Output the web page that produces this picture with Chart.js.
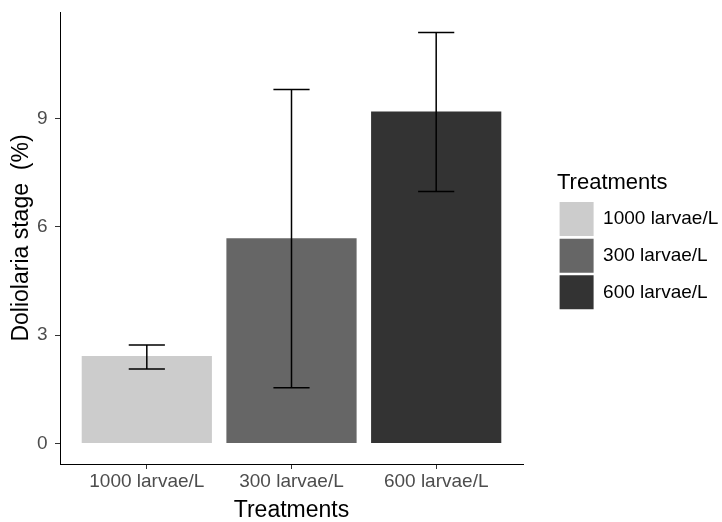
<!DOCTYPE html>
<html>
<head>
<meta charset="utf-8">
<script src="https://cdn.jsdelivr.net/npm/chart.js@4.4.1/dist/chart.umd.min.js"></script>
<style>
  html, body { margin: 0; padding: 0; background: #fff; }
  canvas { display: block; }
</style>
</head>
<body>
<canvas id="grafico" width="722" height="522"></canvas>
<script>
// Datos
const tratamientos = ['1000 larvae/L', '300 larvae/L', '600 larvae/L'];
const medias = [2.42, 5.68, 9.19];
const errorSuperior = [2.73, 9.80, 11.38];
const errorInferior = [2.06, 1.54, 6.98];
const ticksY = [0, 3, 6, 9];

const coloresBarras = ['#cccccc', '#666666', '#333333'];
const fuente = "'Liberation Sans', Arial, sans-serif";
const anchoBigote = 0.25; // ancho de los bigotes en unidades de categoría

// Rango del eje Y con la expansión del 5% (como ggplot)
const maxY = Math.max(...errorSuperior);
const expansion = maxY * 0.05;

// Dibuja las barras de error encima de las barras
const barrasError = {
    id: 'barrasError',
    afterDatasetsDraw(chart) {
        const { ctx, scales: { x, y } } = chart;
        ctx.save();
        ctx.strokeStyle = '#000';
        ctx.lineWidth = 1.5;
        tratamientos.forEach((t, i) => {
            const cx = x.getPixelForValue(i + 1);
            const medio = x.getPixelForValue(i + 1 + anchoBigote / 2) - cx;
            const yArriba = y.getPixelForValue(errorSuperior[i]);
            const yAbajo = y.getPixelForValue(errorInferior[i]);
            ctx.beginPath();
            ctx.moveTo(cx, yArriba); ctx.lineTo(cx, yAbajo);
            ctx.moveTo(cx - medio, yArriba); ctx.lineTo(cx + medio, yArriba);
            ctx.moveTo(cx - medio, yAbajo); ctx.lineTo(cx + medio, yAbajo);
            ctx.stroke();
        });
        ctx.restore();
    }
};

const datasets = tratamientos.map((t, i) => ({
    label: t,
    data: [{ x: i + 1, y: medias[i] }],
    backgroundColor: coloresBarras[i],
    borderWidth: 0,
    grouped: false,
    barPercentage: 0.9,
    categoryPercentage: 1.0
}));

new Chart(document.getElementById('grafico'), {
    type: 'bar',
    data: { datasets: datasets },
    plugins: [barrasError],
    options: {
        responsive: false,
        animation: false,
        layout: { padding: { top: 12, bottom: 0, left: 0, right: 0 } },
        plugins: {
            tooltip: { enabled: false },
            legend: {
                position: 'right',
                fullSize: false,
                maxWidth: 165,
                title: {
                    display: true,
                    text: 'Treatments',
                    position: 'start',
                    color: '#000',
                    font: { family: fuente, size: 22 },
                    padding: { top: 8, bottom: 1 }
                },
                labels: {
                    boxWidth: 34,
                    boxHeight: 34,
                    padding: 2.6,
                    color: '#000',
                    font: { family: fuente, size: 19 }
                }
            }
        },
        scales: {
            x: {
                type: 'linear',
                min: 0.4,
                max: 3.6,
                offset: false,
                afterBuildTicks: s => { s.ticks = tratamientos.map((t, i) => ({ value: i + 1 })); },
                afterFit: s => { s.height = 58; },
                ticks: {
                    color: '#4d4d4d',
                    font: { family: fuente, size: 19 },
                    padding: 1,
                    maxRotation: 0,
                    autoSkip: false,
                    callback: (v, i) => tratamientos[i]
                },
                grid: { offset: false, drawOnChartArea: false, drawTicks: true, tickLength: 5, color: '#333' },
                border: { display: true, color: '#000', width: 1 },
                title: {
                    display: true,
                    text: 'Treatments',
                    color: '#000',
                    font: { family: fuente, size: 23, lineHeight: 1 },
                    padding: { top: 0, bottom: 0 }
                }
            },
            y: {
                min: -expansion,
                max: maxY + expansion,
                afterBuildTicks: s => { s.ticks = ticksY.map(v => ({ value: v })); },
                afterFit: s => { s.width = 60; s.paddingTop = 0; s.paddingBottom = 0; },
                ticks: {
                    color: '#4d4d4d',
                    font: { family: fuente, size: 19 },
                    padding: 7.5
                },
                grid: { drawOnChartArea: false, drawTicks: true, tickLength: 5, color: '#333' },
                border: { display: true, color: '#000', width: 1 },
                title: {
                    display: true,
                    text: 'Doliolaria stage  (%)',
                    color: '#000',
                    font: { family: fuente, size: 23, lineHeight: 1 },
                    padding: { top: 10.5, bottom: 0 }
                }
            },
            hueco: {
                position: 'right',
                display: true,
                grid: { display: false },
                ticks: { display: false },
                border: { display: false },
                afterFit: s => { s.width = 34; s.paddingTop = 0; s.paddingBottom = 0; }
            }
        }
    }
});
</script>
</body>
</html>
